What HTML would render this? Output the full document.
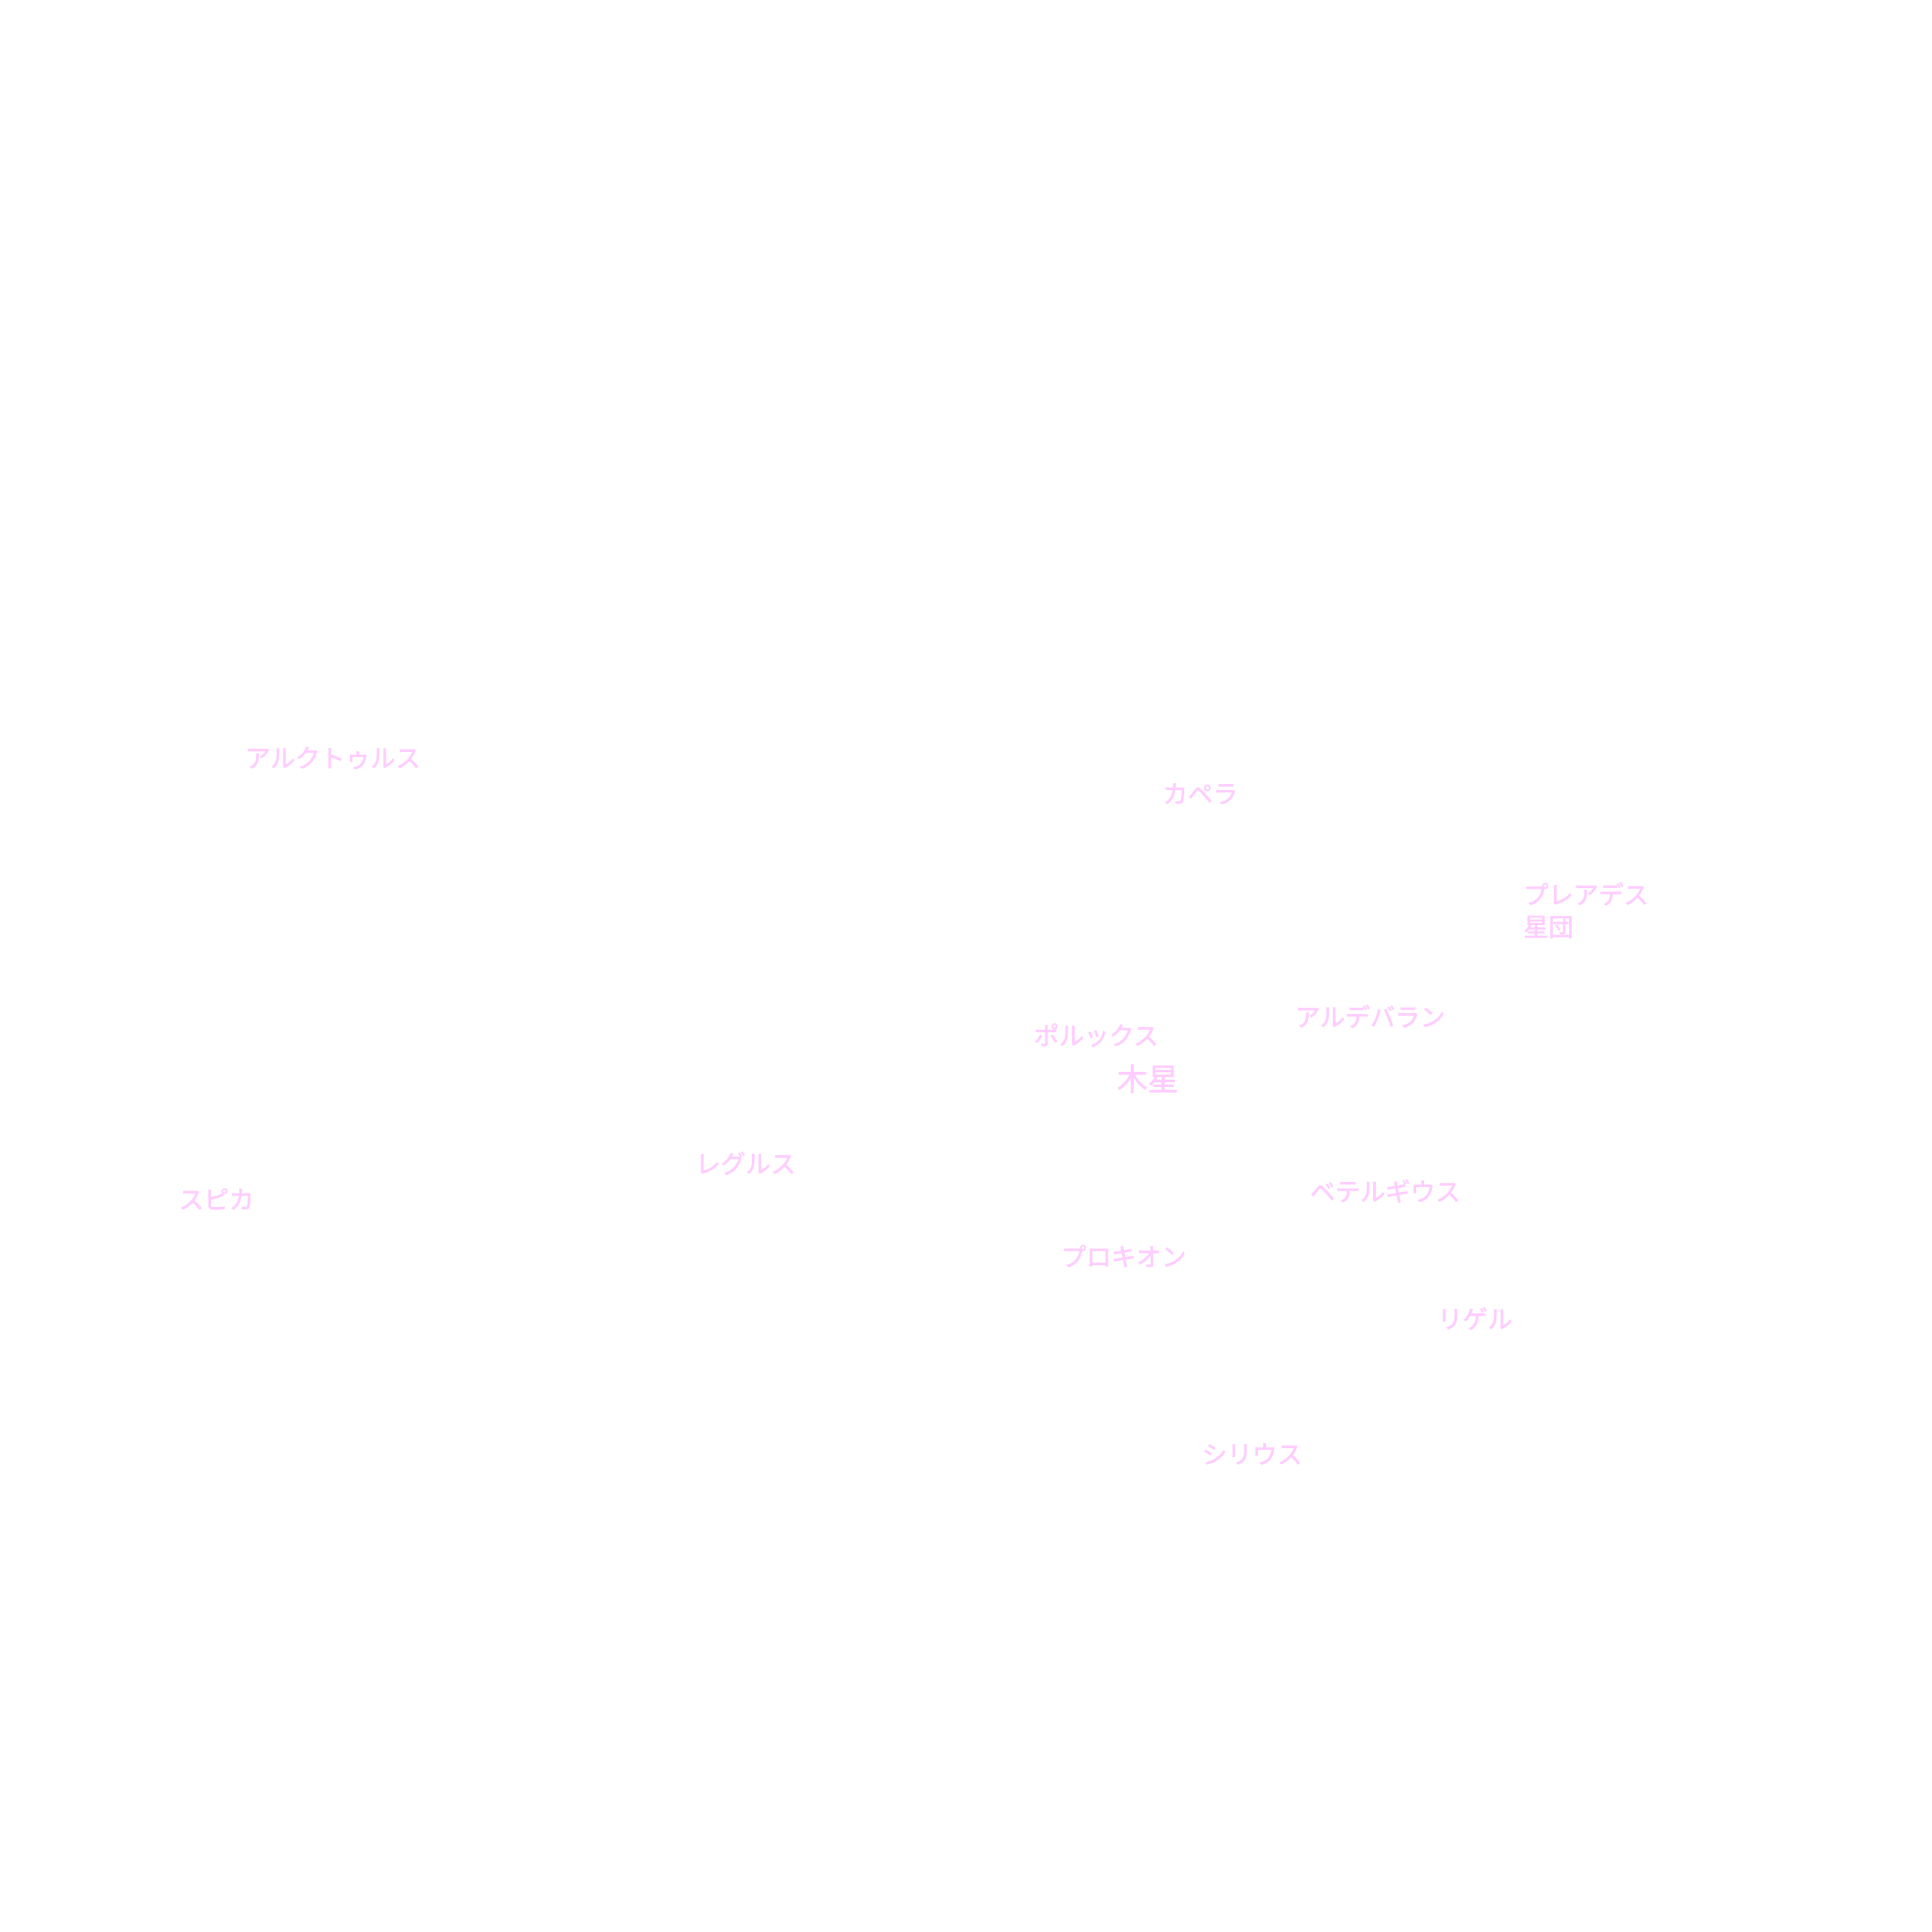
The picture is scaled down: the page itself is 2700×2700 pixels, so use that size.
<!DOCTYPE html>
<html><head><meta charset="utf-8"><style>
html,body{margin:0;padding:0;background:#fff;}
svg{display:block}
text{font-family:"Liberation Sans","Noto Sans CJK JP",sans-serif;fill:#ffccff;stroke:#ffccff;stroke-width:0.8px;font-size:35px;dominant-baseline:central;}
</style></head><body>
<svg width="2700" height="2700" viewBox="0 0 2700 2700" xmlns="http://www.w3.org/2000/svg">
<rect width="2700" height="2700" fill="#fff"/>
<text x="343" y="1061">アルクトゥルス</text>
<text x="1625" y="1111">カペラ</text>
<text x="2129" y="1252">プレアデス</text>
<text x="2129" y="1297">星団</text>
<text x="1810" y="1423">アルデバラン</text>
<text x="1445" y="1449">ポルックス</text>
<text x="1561" y="1510" style="font-size:43px">木星</text>
<text x="972" y="1628">レグルス</text>
<text x="250" y="1678">スピカ</text>
<text x="1831" y="1667">ベテルギウス</text>
<text x="1483" y="1758">プロキオン</text>
<text x="2009" y="1845">リゲル</text>
<text x="1680" y="2034">シリウス</text>
</svg>
</body></html>
